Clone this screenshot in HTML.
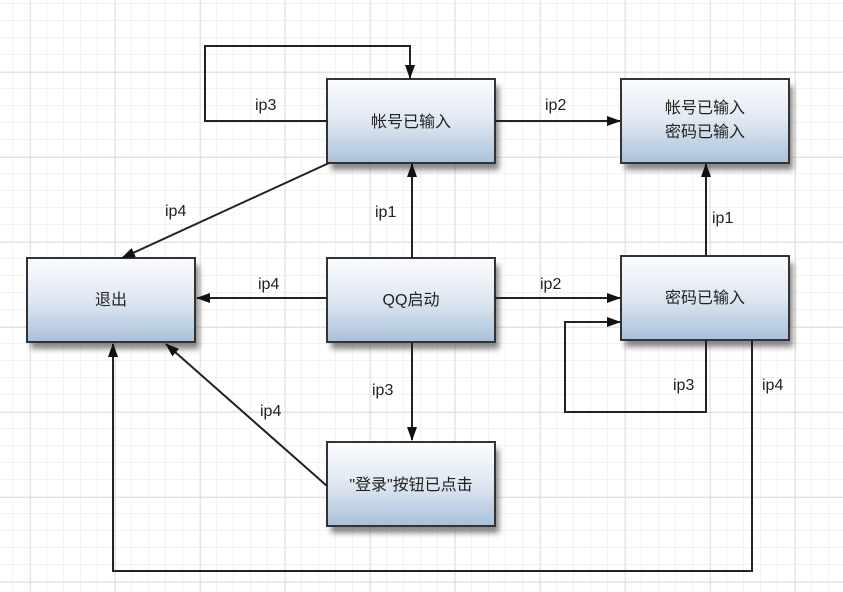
<!DOCTYPE html>
<html><head><meta charset="utf-8">
<style>
html,body{margin:0;padding:0;background:#fff;}
svg{display:block;}
text{font-family:"Liberation Sans","Noto Sans CJK SC",sans-serif;fill:#222;}
</style></head>
<body>
<svg width="843" height="592" viewBox="0 0 843 592" xmlns="http://www.w3.org/2000/svg">
<defs>
<pattern id="minor" x="13" y="4" width="17" height="17" patternUnits="userSpaceOnUse">
<path d="M17 0V17M0 17H17" fill="none" stroke="#e6e6e6" stroke-width="1"/>
</pattern>
<pattern id="major" x="30" y="72" width="85" height="85" patternUnits="userSpaceOnUse">
<path d="M0 0V85M0 0H85" fill="none" stroke="#d4d4d4" stroke-width="1.2"/>
</pattern>
<linearGradient id="g" x1="0" y1="0" x2="0" y2="1">
<stop offset="0" stop-color="#fbfcfe"/>
<stop offset="0.5" stop-color="#dfe8f2"/>
<stop offset="1" stop-color="#a9c0d9"/>
</linearGradient>
<filter id="sh" x="-10%" y="-10%" width="130%" height="140%">
<feGaussianBlur stdDeviation="3"/>
</filter>
<marker id="a" markerWidth="14" markerHeight="10" refX="13" refY="5" orient="auto" markerUnits="userSpaceOnUse">
<path d="M0 0L14 5L0 10z" fill="#111"/>
</marker>
</defs>
<rect width="843" height="592" fill="url(#minor)"/>
<rect width="843" height="592" fill="url(#major)"/>

<g fill="#555" opacity="0.7" filter="url(#sh)">
<rect x="331" y="86" width="168" height="84"/>
<rect x="625" y="86" width="168" height="84"/>
<rect x="31" y="265" width="168" height="84"/>
<rect x="331" y="265" width="168" height="84"/>
<rect x="625" y="263" width="168" height="84"/>
<rect x="331" y="449" width="168" height="84"/>
</g>
<g fill="url(#g)" stroke="#333" stroke-width="2">
<rect x="327" y="79" width="168" height="84"/>
<rect x="621" y="79" width="168" height="84"/>
<rect x="27" y="258" width="168" height="84"/>
<rect x="327" y="258" width="168" height="84"/>
<rect x="621" y="256" width="168" height="84"/>
<rect x="327" y="442" width="168" height="84"/>
</g>

<g fill="none" stroke="#222" stroke-width="2">
<path d="M327 121H205V46H410V78" marker-end="url(#a)"/>
<path d="M495 121H620" marker-end="url(#a)"/>
<path d="M329 163L122 258" marker-end="url(#a)"/>
<path d="M412 258V164" marker-end="url(#a)"/>
<path d="M327 298H197" marker-end="url(#a)"/>
<path d="M495 298H620" marker-end="url(#a)"/>
<path d="M412 342V440" marker-end="url(#a)"/>
<path d="M327 486L166 344" marker-end="url(#a)"/>
<path d="M706 256V164" marker-end="url(#a)"/>
<path d="M706 340V412H565V322H620" marker-end="url(#a)"/>
<path d="M752 340V571H113V344" marker-end="url(#a)"/>
</g>

<g font-size="16">
<text x="255" y="110">ip3</text>
<text x="545" y="110">ip2</text>
<text x="165" y="216">ip4</text>
<text x="375" y="217">ip1</text>
<text x="258" y="289">ip4</text>
<text x="540" y="289">ip2</text>
<text x="372" y="395">ip3</text>
<text x="260" y="416">ip4</text>
<text x="712" y="223">ip1</text>
<text x="673" y="390">ip3</text>
<text x="762" y="390">ip4</text>
</g>
<g font-size="16" text-anchor="middle">
<text x="411" y="127">帐号已输入</text>
<text x="705" y="113">帐号已输入</text>
<text x="705" y="137">密码已输入</text>
<text x="111" y="305">退出</text>
<text x="411" y="305">QQ启动</text>
<text x="705" y="303">密码已输入</text>
<text x="411" y="490">"登录"按钮已点击</text>
</g>
</svg>
</body></html>
